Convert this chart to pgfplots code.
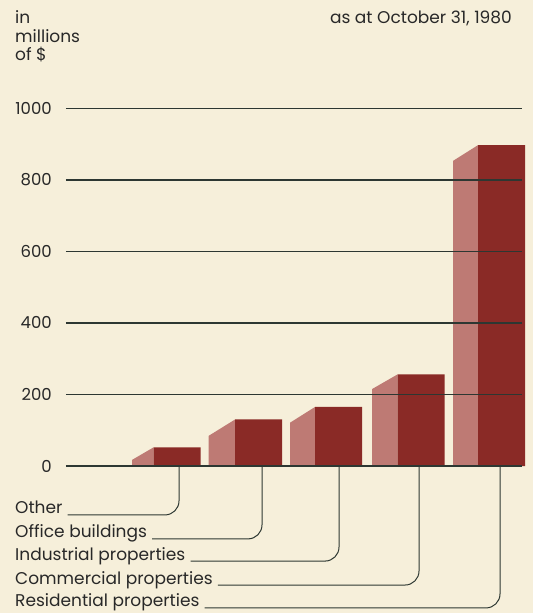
\documentclass[border=0pt]{standalone}
\usepackage{fontspec}
\setmainfont{Poppins}
\usepackage{pgfplots}
\pgfplotsset{compat=1.18}
\definecolor{bg}{RGB}{246,239,218}
\definecolor{darkbar}{RGB}{138,42,38}
\definecolor{lightbar}{RGB}{190,122,116}
\definecolor{gridc}{RGB}{45,55,50}
\definecolor{txt}{RGB}{40,40,40}
\begin{document}
\begin{tikzpicture}[every node/.style={text=txt, inner sep=0pt, font=\fontsize{17bp}{19bp}\selectfont}]
\fill[bg] (-66bp,-147bp) rectangle (467bp,466bp);
\begin{axis}[
  scale only axis, width=456bp, height=357.7bp,
  xmin=66, xmax=522, ymin=0, ymax=1000,
  axis line style={draw=none}, clip=false, axis on top,
  xtick=\empty, ytick={0,200,400,600,800,1000},
  major tick length=0pt,
  ymajorgrids, grid style={gridc, line width=1.5bp},
  /pgf/number format/assume math mode=true,
  /pgf/number format/1000 sep={},
  yticklabel style={text=txt, inner sep=0pt, font=\fontsize{16.5bp}{19bp}\selectfont, anchor=east, xshift=-14bp},
]
% side faces
\addplot[fill=lightbar, draw=none] coordinates {(132,17) (153.5,52)} \closedcycle;
\addplot[fill=lightbar, draw=none] coordinates {(208.5,84) (235,130)} \closedcycle;
\addplot[fill=lightbar, draw=none] coordinates {(290,121) (315,165)} \closedcycle;
\addplot[fill=lightbar, draw=none] coordinates {(372,215) (397.5,256)} \closedcycle;
\addplot[fill=lightbar, draw=none] coordinates {(453,853) (478,897)} \closedcycle;
% front faces
\addplot[ybar, bar width=47, fill=darkbar, draw=none] coordinates {(177,52) (258.5,130) (338.5,165) (421,256) (501.5,897)};
% header texts
\node[anchor=base west] at (axis cs:15,1238) {in};
\node[anchor=base west] at (axis cs:15,1183) {millions};
\node[anchor=base west] at (axis cs:15,1135) {of \$};
\node[anchor=base east] at (axis cs:512,1238) {as at October 31, 1980};
% category labels
\node[anchor=base west] (t1) at (axis cs:15,-134) {Other};
\node[anchor=base west] (t2) at (axis cs:15,-201) {Office buildings};
\node[anchor=base west] (t3) at (axis cs:15,-263) {Industrial properties};
\node[anchor=base west] (t4) at (axis cs:15,-330) {Commercial properties};
\node[anchor=base west] (t5) at (axis cs:15,-394) {Residential properties};
\draw[gridc, line width=1bp, rounded corners=14bp] ([xshift=5bp,yshift=-1bp]t1.base east) -| (axis cs:179,0);
\draw[gridc, line width=1bp, rounded corners=14bp] ([xshift=5bp,yshift=-1bp]t2.base east) -| (axis cs:262,0);
\draw[gridc, line width=1bp, rounded corners=14bp] ([xshift=5bp,yshift=-1bp]t3.base east) -| (axis cs:339,0);
\draw[gridc, line width=1bp, rounded corners=14bp] ([xshift=5bp,yshift=-1bp]t4.base east) -| (axis cs:419,0);
\draw[gridc, line width=1bp, rounded corners=14bp] ([xshift=5bp,yshift=-1bp]t5.base east) -| (axis cs:500,0);
\end{axis}
\end{tikzpicture}
\end{document}
